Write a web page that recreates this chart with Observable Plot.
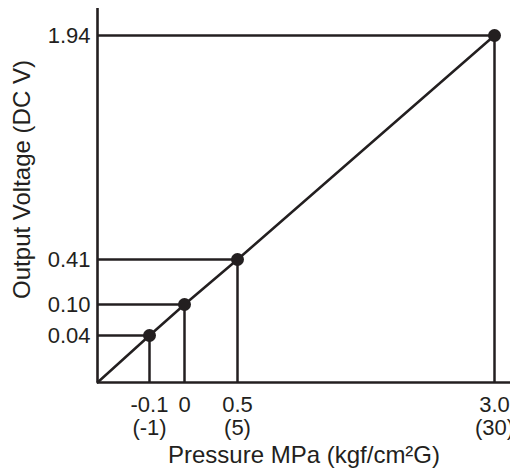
<!DOCTYPE html>
<html>
<head>
<meta charset="utf-8">
<script src="https://cdn.jsdelivr.net/npm/d3@7"></script>
<script src="https://cdn.jsdelivr.net/npm/@observablehq/plot@0.6"></script>
<style>
  html, body { margin: 0; padding: 0; background: #fff; }
  #chart { width: 510px; height: 468px; }
</style>
</head>
<body>
<div id="chart"></div>
<script>
// Data (schematic sensor output characteristic)
const pressureMPa = [-0.1, 0, 0.5, 3.0];
const pressureKgf = ["(-1)", "", "(5)", "(30)"];
const pressureTickText = ["-0.1", "0", "0.5", "3.0"];
const voltage = [0.04, 0.10, 0.41, 1.94];
const voltageTickText = ["0.04", "0.10", "0.41", "1.94"];
// Axis origin and axis ends (schematic, non-linear axes)
const xAxisStart = -0.2, xAxisEnd = 3.1;
const yAxisStart = 0, yAxisEnd = 2.1;

const points = pressureMPa.map((p, i) => ({p, v: voltage[i]}));
const curve = [{p: xAxisStart, v: yAxisStart}, ...points];

const ink = "#231f20";
const font = "'Liberation Sans', Arial, Helvetica, sans-serif";

const chart = Plot.plot({
  width: 510,
  height: 468,
  marginLeft: 97,
  marginRight: 0,
  marginTop: 8,
  marginBottom: 86,
  style: {fontFamily: font, color: ink, background: "#fff"},
  x: {
    type: "linear",
    domain: [xAxisStart, ...pressureMPa, xAxisEnd],
    range: [97, 149, 184, 237, 494, 510]
  },
  y: {
    type: "linear",
    domain: [yAxisStart, ...voltage, yAxisEnd],
    range: [382, 335, 304, 259, 35, 8]
  },
  marks: [
    // guide lines
    Plot.ruleY(points, {y: "v", x1: xAxisStart, x2: "p", stroke: ink, strokeWidth: 2.5}),
    Plot.ruleX(points, {x: "p", y1: yAxisStart, y2: "v", stroke: ink, strokeWidth: 2.5}),
    // characteristic line
    Plot.line(curve, {x: "p", y: "v", stroke: ink, strokeWidth: 2.5}),
    Plot.dot(points, {x: "p", y: "v", r: 6.5, fill: ink, stroke: "none"}),
    // axes lines
    Plot.ruleX([xAxisStart], {y1: yAxisStart, y2: yAxisEnd, stroke: ink, strokeWidth: 2.6}),
    Plot.ruleY([yAxisStart], {x1: xAxisStart, x2: xAxisEnd, stroke: ink, strokeWidth: 2.6}),
    // y ticks
    Plot.axisY({
      ticks: voltage,
      tickFormat: (d) => voltageTickText[voltage.indexOf(d)],
      tickSize: 0,
      tickPadding: 7,
      fontSize: 22,
      label: null,
      fill: ink
    }),
    // x ticks (two lines: MPa and kgf/cm2)
    Plot.axisX({
      ticks: pressureMPa,
      tickFormat: (d) => {
        const i = pressureMPa.indexOf(d);
        return pressureKgf[i] ? pressureTickText[i] + "\n" + pressureKgf[i] : pressureTickText[i];
      },
      tickSize: 0,
      tickPadding: 13,
      fontSize: 22,
      lineHeight: 1.05,
      label: null,
      fill: ink
    }),
    // axis titles
    Plot.text(["Pressure MPa (kgf/cm\u00b2G)"], {
      frameAnchor: "bottom", dy: 73, lineAnchor: "middle",
      fontSize: 24, fill: ink
    }),
    Plot.text(["Output Voltage (DC V)"], {
      frameAnchor: "left", textAnchor: "middle", lineAnchor: "middle",
      dx: -75, dy: -16, rotate: -90,
      fontSize: 24, fill: ink
    })
  ]
});
document.getElementById("chart").appendChild(chart);
</script>
</body>
</html>
